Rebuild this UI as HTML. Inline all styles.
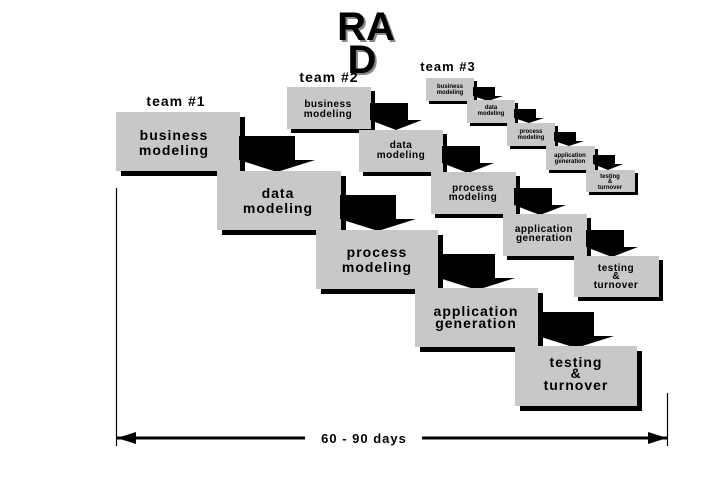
<!DOCTYPE html>
<html><head><meta charset="utf-8"><style>
html,body{margin:0;padding:0;background:#fff;}
svg{display:block;}
text{font-family:"Liberation Sans",sans-serif;font-weight:bold;fill:#000;text-anchor:middle;}
</style></head><body>
<svg width="720" height="480" viewBox="0 0 720 480" xmlns="http://www.w3.org/2000/svg">
<!-- title -->
<text x="366" y="40" font-size="40" fill="#777" style="fill:#888" dx="2" dy="2">RA</text>
<text x="366" y="40" font-size="40">RA</text>
<text x="362" y="73" font-size="40" style="fill:#888" dx="2" dy="2">D</text>
<text x="362" y="73" font-size="40">D</text>
<text x="176" y="106" font-size="14" letter-spacing="1">team #1</text>
<text x="329" y="82" font-size="14" letter-spacing="1">team #2</text>
<text x="448" y="71" font-size="13" letter-spacing="1">team #3</text>

<!-- team 1 -->
<g>
<rect x="121" y="117" width="124" height="59" fill="#000"/><rect x="116" y="112" width="124" height="59" fill="#c8c8c8"/>
<text x="174" y="140" font-size="14" letter-spacing="1">business</text><text x="174" y="155" font-size="14" letter-spacing="1">modeling</text>
<rect x="239" y="136" width="56" height="24"/><polygon points="239,160 315,160 277,172"/>
<rect x="222" y="176" width="124" height="59" fill="#000"/><rect x="217" y="171" width="124" height="59" fill="#c8c8c8"/>
<text x="278" y="198" font-size="14" letter-spacing="1">data</text><text x="278" y="213" font-size="14" letter-spacing="1">modeling</text>
<rect x="340" y="195" width="56" height="24"/><polygon points="340,219 416,219 378,231"/>
<rect x="321" y="235" width="122" height="59" fill="#000"/><rect x="316" y="230" width="122" height="59" fill="#c8c8c8"/>
<text x="377" y="257" font-size="14" letter-spacing="1">process</text><text x="377" y="272" font-size="14" letter-spacing="1">modeling</text>
<rect x="439" y="254" width="56" height="24"/><polygon points="439,278 515,278 477,290"/>
<rect x="420" y="293" width="123" height="59" fill="#000"/><rect x="415" y="288" width="123" height="59" fill="#c8c8c8"/>
<text x="476" y="316" font-size="14" letter-spacing="1">application</text><text x="476" y="328" font-size="14" letter-spacing="1">generation</text>
<rect x="538" y="312" width="56" height="24"/><polygon points="538,336 614,336 576,348"/>
<rect x="520" y="351" width="122" height="60" fill="#000"/><rect x="515" y="346" width="122" height="60" fill="#c8c8c8"/>
<text x="576" y="367" font-size="14" letter-spacing="1">testing</text><text x="576" y="378" font-size="14" letter-spacing="1">&amp;</text><text x="576" y="390" font-size="14" letter-spacing="1">turnover</text>
</g>

<!-- team 2 -->
<g>
<rect x="291" y="91" width="84" height="42"/><rect x="287" y="87" width="84" height="42" fill="#c8c8c8"/>
<text x="328" y="107" font-size="10" letter-spacing="0.5">business</text><text x="328" y="117" font-size="10" letter-spacing="0.5">modeling</text>
<rect x="370" y="103" width="38" height="17"/><polygon points="370,120 422,120 396,130"/>
<rect x="363" y="134" width="84" height="42"/><rect x="359" y="130" width="84" height="42" fill="#c8c8c8"/>
<text x="401" y="148" font-size="10" letter-spacing="0.5">data</text><text x="401" y="158" font-size="10" letter-spacing="0.5">modeling</text>
<rect x="442" y="146" width="38" height="17"/><polygon points="442,163 494,163 468,173"/>
<rect x="435" y="176" width="85" height="42"/><rect x="431" y="172" width="85" height="42" fill="#c8c8c8"/>
<text x="473" y="191" font-size="10" letter-spacing="0.5">process</text><text x="473" y="200" font-size="10" letter-spacing="0.5">modeling</text>
<rect x="514" y="188" width="38" height="17"/><polygon points="514,205 566,205 540,215"/>
<rect x="507" y="218" width="84" height="42"/><rect x="503" y="214" width="84" height="42" fill="#c8c8c8"/>
<text x="544" y="232" font-size="10" letter-spacing="0.5">application</text><text x="544" y="241" font-size="10" letter-spacing="0.5">generation</text>
<rect x="586" y="230" width="38" height="17"/><polygon points="586,247 638,247 612,257"/>
<rect x="578" y="260" width="85" height="41"/><rect x="574" y="256" width="85" height="41" fill="#c8c8c8"/>
<text x="616" y="271" font-size="10" letter-spacing="0.5">testing</text><text x="616" y="279" font-size="10">&amp;</text><text x="616" y="288" font-size="10" letter-spacing="0.5">turnover</text>
</g>

<!-- team 3 -->
<g>
<rect x="429" y="81" width="48" height="23"/><rect x="426" y="78" width="48" height="23" fill="#c8c8c8"/>
<text x="450" y="88" font-size="6">business</text><text x="450" y="94" font-size="6">modeling</text>
<rect x="473" y="87" width="22" height="9"/><polygon points="473,96 503,96 488,101"/>
<rect x="470" y="103" width="48" height="23"/><rect x="467" y="100" width="48" height="23" fill="#c8c8c8"/>
<text x="491" y="109" font-size="6">data</text><text x="491" y="115" font-size="6">modeling</text>
<rect x="514" y="109" width="22" height="9"/><polygon points="514,118 544,118 529,123"/>
<rect x="510" y="126" width="48" height="23"/><rect x="507" y="123" width="48" height="23" fill="#c8c8c8"/>
<text x="531" y="133" font-size="6">process</text><text x="531" y="139" font-size="6">modeling</text>
<rect x="554" y="132" width="22" height="9"/><polygon points="554,141 584,141 569,146"/>
<rect x="549" y="149" width="49" height="24"/><rect x="546" y="146" width="49" height="24" fill="#c8c8c8"/>
<text x="570" y="157" font-size="6">application</text><text x="570" y="163" font-size="6">generation</text>
<rect x="593" y="155" width="22" height="9"/><polygon points="593,164 623,164 608,170"/>
<rect x="589" y="173" width="49" height="22"/><rect x="586" y="170" width="49" height="22" fill="#c8c8c8"/>
<text x="610" y="178" font-size="6">testing</text><text x="610" y="183" font-size="6">&amp;</text><text x="610" y="189" font-size="6">turnover</text>
</g>

<!-- timeline -->
<line x1="116.5" y1="188" x2="116.5" y2="446" stroke="#000" stroke-width="1.2"/>
<line x1="667.5" y1="393" x2="667.5" y2="446" stroke="#000" stroke-width="1.2"/>
<line x1="117" y1="438" x2="305" y2="438" stroke="#000" stroke-width="3"/>
<line x1="422" y1="438" x2="667" y2="438" stroke="#000" stroke-width="3"/>
<polygon points="117,438 136,432 136,444"/>
<polygon points="667,438 648,432 648,444"/>
<text x="364" y="443" font-size="13" letter-spacing="1">60 - 90 days</text>
</svg>
</body></html>
